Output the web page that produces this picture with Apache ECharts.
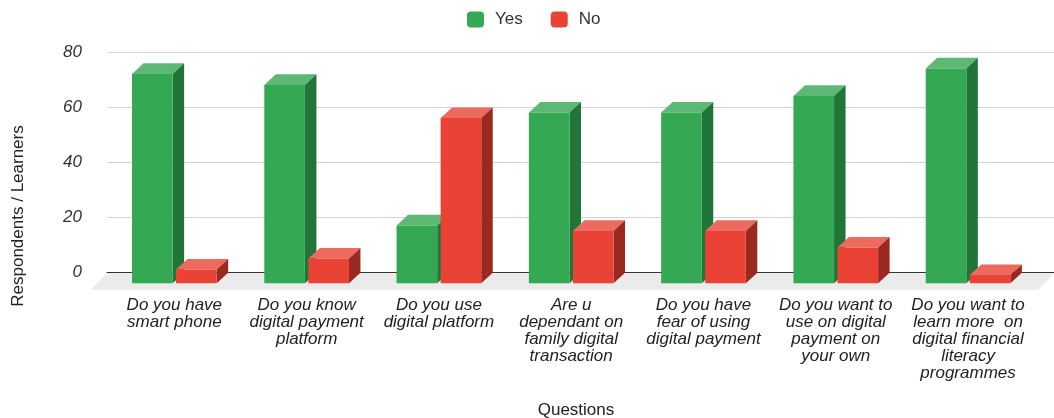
<!DOCTYPE html>
<html><head><meta charset="utf-8">
<script src="https://cdn.jsdelivr.net/npm/echarts@6/dist/echarts.min.js"></script>
<style>html,body{margin:0;padding:0;background:#fff}#c{width:1054px;height:418px}</style>
</head><body><div id="c"></div>
<script>
const categories = [
  'Do you have\nsmart phone',
  'Do you know\ndigital payment\nplatform',
  'Do you use\ndigital platform',
  'Are u\ndependant on\nfamily digital\ntransaction',
  'Do you have\nfear of using\ndigital payment',
  'Do you want to\nuse on digital\npayment on\nyour own',
  'Do you want to\nlearn more  on\ndigital financial\nliteracy\nprogrammes'
];
const yesValues = [76, 72, 21, 62, 62, 68, 78];
const noValues = [5, 9, 60, 19, 19, 13, 3];
const seriesNames = ['Yes', 'No'];
const yMin = 0, yMax = 80, yInterval = 20;
const yTitle = 'Respondents / Learners';
const xTitle = 'Questions';

const FONT = 'Liberation Sans, Arial, sans-serif';
const palettes = {
  Yes: { front: '#34a853', top: '#5cb874', side: '#217536' },
  No:  { front: '#ea4335', top: '#ed6a5e', side: '#9a2a20' }
};
const DX = 11.5, DY = 10.6;

function makeBarRender(side, colors) {
  return function (params, api) {
    const idx = api.value(0);
    const val = api.value(1);
    const top = api.coord([idx, val]);
    const bot = api.coord([idx, 0]);
    const band = api.size([1, 0])[0];
    const w = band * 0.307, hg = band * 0.013;
    const x0 = side < 0 ? top[0] - hg - w : top[0] + hg;
    const x1 = x0 + w;
    const yt = top[1], yb = bot[1];
    return {
      type: 'group',
      children: [
        { type: 'polygon', shape: { points: [[x0, yt], [x0 + DX, yt - DY], [x1 + DX, yt - DY], [x1, yt]] }, style: { fill: colors.top } },
        { type: 'polygon', shape: { points: [[x1, yt], [x1 + DX, yt - DY], [x1 + DX, yb - DY], [x1, yb]] }, style: { fill: colors.side } },
        { type: 'rect', shape: { x: x0, y: yt, width: w, height: yb - yt }, style: { fill: colors.front } }
      ]
    };
  };
}

const chart = echarts.init(document.getElementById('c'), null, { renderer: 'canvas' });
chart.setOption({
  backgroundColor: '#fff',
  animation: false,
  textStyle: { fontFamily: FONT },
  legend: {
    data: seriesNames,
    left: 462, top: 6,
    icon: 'roundRect',
    itemWidth: 17, itemHeight: 16, itemGap: 28,
    textStyle: { fontSize: 17, color: '#333', fontFamily: FONT, padding: [0, 0, 0, 6] }
  },
  grid: [
    { left: 107, right: 0, top: 52.3, height: 220.4 },
    { left: 108.2, right: 19.8, top: 62.9, height: 220.4 }
  ],
  xAxis: [
    { gridIndex: 0, type: 'category', data: categories, z: 1,
      axisLine: { show: true, lineStyle: { color: '#333', width: 1 } },
      axisTick: { show: false }, axisLabel: { show: false }, splitLine: { show: false } },
    { gridIndex: 1, type: 'category', data: categories,
      axisLine: { show: false }, axisTick: { show: false },
      axisLabel: { interval: 0, fontStyle: 'italic', fontSize: 17, lineHeight: 17, color: '#222', margin: 13, fontFamily: FONT } }
  ],
  yAxis: [
    { gridIndex: 0, type: 'value', min: yMin, max: yMax, interval: yInterval,
      axisLine: { show: false }, axisTick: { show: false },
      axisLabel: { fontStyle: 'italic', fontSize: 17, color: '#333', margin: 25, fontFamily: FONT },
      splitLine: { lineStyle: { color: '#d3d3d3', width: 1 } } },
    { gridIndex: 1, type: 'value', min: yMin, max: yMax, interval: yInterval, show: false }
  ],
  graphic: [
    { type: 'text', x: 18, y: 216, rotation: Math.PI / 2,
      style: { text: yTitle, fontSize: 17, fill: '#222', fontFamily: FONT, textAlign: 'center', textVerticalAlign: 'middle' } },
    { type: 'text', x: 576, y: 410,
      style: { text: xTitle, fontSize: 17, fill: '#222', fontFamily: FONT, textAlign: 'center', textVerticalAlign: 'middle' } }
  ],
  series: [
    { type: 'custom', name: 'floor', xAxisIndex: 0, yAxisIndex: 0, z: 0, silent: true,
      data: [[0, 0]],
      renderItem: function (params, api) {
        const cs = params.coordSys;
        const yb = cs.y + cs.height + 0.5;
        const xl = cs.x, xr = cs.x + cs.width;
        return { type: 'polygon', shape: { points: [[xl, yb], [xr, yb], [xr - 16, yb + 16.5], [xl - 16, yb + 16.5]] }, style: { fill: '#ebebeb' } };
      } },
    { type: 'custom', name: 'Yes', xAxisIndex: 1, yAxisIndex: 1, z: 2,
      itemStyle: { color: palettes.Yes.front },
      encode: { x: 0, y: 1 },
      data: yesValues.map((v, i) => [i, v]),
      renderItem: makeBarRender(-1, palettes.Yes) },
    { type: 'custom', name: 'No', xAxisIndex: 1, yAxisIndex: 1, z: 3,
      itemStyle: { color: palettes.No.front },
      encode: { x: 0, y: 1 },
      data: noValues.map((v, i) => [i, v]),
      renderItem: makeBarRender(1, palettes.No) }
  ]
});
</script>
</body></html>
